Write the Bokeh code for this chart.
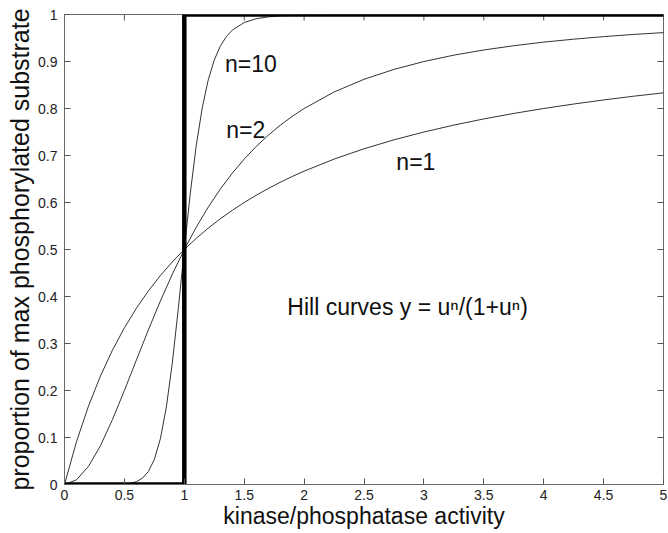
import math
from bokeh.plotting import figure
from bokeh.models import FixedTicker, Label, Range1d
from bokeh.embed import file_html
from bokeh.resources import INLINE

# ---- data (Hill curves) ----
u_grid = [0, 0.1, 0.2, 0.3, 0.4, 0.5, 0.6, 0.7, 0.8, 0.9, 1.0,
          1.1, 1.2, 1.3, 1.4, 1.5, 1.6, 1.7, 1.8, 1.9, 2.0,
          2.25, 2.5, 2.75, 3.0, 3.25, 3.5, 3.75, 4.0, 4.25, 4.5, 4.75, 5.0]
hill_n1 = [0, 0.0909, 0.1667, 0.2308, 0.2857, 0.3333, 0.375, 0.4118, 0.4444, 0.4737, 0.5,
           0.5238, 0.5455, 0.5652, 0.5833, 0.6, 0.6154, 0.6296, 0.6429, 0.6552, 0.6667,
           0.6923, 0.7143, 0.7333, 0.75, 0.7647, 0.7778, 0.7895, 0.8, 0.8095, 0.8182,
           0.8261, 0.8333]
hill_n2 = [0, 0.0099, 0.0385, 0.0826, 0.1379, 0.2, 0.2647, 0.3289, 0.3902, 0.4475, 0.5,
           0.5475, 0.5902, 0.6283, 0.6622, 0.6923, 0.7191, 0.7429, 0.7642, 0.7831, 0.8,
           0.8351, 0.8621, 0.8832, 0.9, 0.9135, 0.9245, 0.9336, 0.9412, 0.9475, 0.9529,
           0.9576, 0.9615]
u_grid10 = [0, 0.4, 0.5, 0.55, 0.6, 0.65, 0.7, 0.75, 0.8, 0.85, 0.9, 0.95, 1.0, 1.05,
            1.1, 1.15, 1.2, 1.25, 1.3, 1.35, 1.4, 1.5, 1.6, 1.7, 1.8, 2.0, 5.0]
hill_n10 = [0, 0.0001, 0.0010, 0.0025, 0.0060, 0.0133, 0.0275, 0.0533, 0.0970, 0.1645,
            0.2586, 0.3745, 0.5, 0.6196, 0.7217, 0.8018, 0.8610, 0.9030, 0.9324,
            0.9526, 0.9666, 0.9829, 0.9910, 0.9950, 0.9972, 0.9990, 1.0]
step_u = [0, 1, 1, 5]
step_y = [0, 0, 1, 1]

x_ticks = [0, 0.5, 1, 1.5, 2, 2.5, 3, 3.5, 4, 4.5, 5]
x_tick_labels = ["0", "0.5", "1", "1.5", "2", "2.5", "3", "3.5", "4", "4.5", "5"]
y_ticks = [0, 0.1, 0.2, 0.3, 0.4, 0.5, 0.6, 0.7, 0.8, 0.9, 1]
y_tick_labels = ["0", "0.1", "0.2", "0.3", "0.4", "0.5", "0.6", "0.7", "0.8", "0.9", "1"]

curve_labels = ["n=10", "n=2", "n=1"]
curve_label_x = [1.34, 1.35, 2.77]
curve_label_y = [0.894, 0.754, 0.687]
note_text = "Hill curves y = u\u207f/(1+u\u207f)"
note_x, note_y = 1.86, 0.377

x_title = "kinase/phosphatase activity"
y_title = "proportion of max phosphorylated substrate"

FONT = "Liberation Sans"

p = figure(width=668, height=533, x_range=Range1d(0, 5), y_range=Range1d(0, 1),
           output_backend="svg", toolbar_location=None,
           min_border_left=64, min_border_right=5, min_border_top=14, min_border_bottom=49)
p.xgrid.visible = False
p.ygrid.visible = False
p.outline_line_color = "#6a6a6a"
p.outline_line_width = 1
p.background_fill_color = "white"
p.border_fill_color = "white"


def style_axis(ax, ticks, labels):
    ax.ticker = FixedTicker(ticks=ticks)
    ax.major_label_overrides = dict(zip(ticks, labels))
    ax.minor_tick_line_color = None
    ax.major_tick_in = 6
    ax.major_tick_out = 0
    ax.major_tick_line_color = "#555555"
    ax.axis_line_color = "#6a6a6a"
    ax.major_label_text_font = FONT
    ax.major_label_text_color = "#222222"
    ax.major_label_text_font_size = "14px"


style_axis(p.xaxis[0], x_ticks, x_tick_labels)
style_axis(p.yaxis[0], y_ticks, y_tick_labels)
p.xaxis[0].major_label_standoff = 5
p.yaxis[0].major_label_standoff = 7
p.xaxis[0].axis_label_text_font_size = "23px"
p.yaxis[0].axis_label_text_font_size = "25px"
p.xaxis[0].axis_label_standoff = 0
p.yaxis[0].axis_label_standoff = 1
for ax, t in ((p.xaxis[0], x_title), (p.yaxis[0], y_title)):
    ax.axis_label = t
    ax.axis_label_text_font = FONT
    ax.axis_label_text_font_style = "normal"
    ax.axis_label_text_color = "#111111"

# mirrored inward ticks on the top and right edges (half of each dash is clipped)
top_tick_y = [y_ticks[-1]] * len(x_ticks)
right_tick_x = [x_ticks[-1]] * len(y_ticks)
p.scatter(x_ticks, top_tick_y, marker="dash", size=12, angle=math.pi / 2,
          line_color="#555555", line_width=1)
p.scatter(right_tick_x, y_ticks, marker="dash", size=12, angle=0,
          line_color="#555555", line_width=1)

p.line(u_grid, hill_n1, line_color="#333333", line_width=1)
p.line(u_grid, hill_n2, line_color="#333333", line_width=1)
p.line(u_grid10, hill_n10, line_color="#333333", line_width=1)
p.line(step_u, step_y, line_color="black", line_width=4.5)

for txt, lx, ly in zip(curve_labels, curve_label_x, curve_label_y):
    p.add_layout(Label(x=lx, y=ly, text=txt, text_font=FONT, text_font_size="23px",
                       text_color="#111111", text_baseline="middle", text_align="left"))
p.add_layout(Label(x=note_x, y=note_y, text=note_text, text_font=FONT,
                   text_font_size="23px", text_color="#111111",
                   text_baseline="middle", text_align="left"))

open("out.html", "w").write(file_html(p, INLINE))
